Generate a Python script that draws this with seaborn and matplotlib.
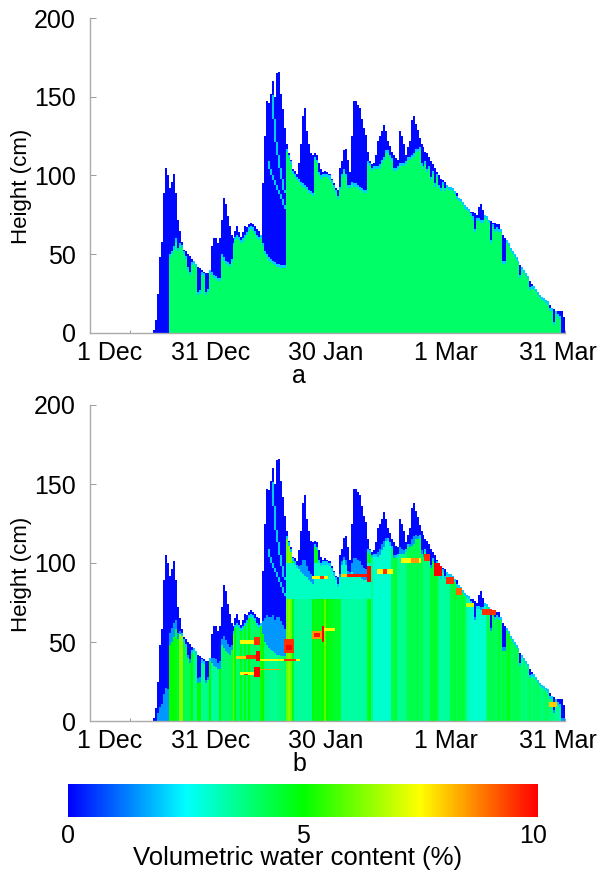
import numpy as np
import seaborn as sns
import matplotlib.pyplot as plt
from matplotlib.colors import LinearSegmentedColormap
from matplotlib.transforms import ScaledTranslation

# All series hold one value per half day, 1 Dec to 31 Mar
snow_height = [
    0, 0, 0, 0, 0, 0, 0, 0, 0, 0, 0, 0, 0, 0, 0, 0, 0, 0, 0, 0,
    0, 0, 0, 0, 0, 0, 0, 0, 0, 0, 0, 0, 2, 8, 25, 48, 58, 89, 105, 100,
    92, 96, 101, 89, 72, 65, 58, 53, 52, 50, 49, 47, 46, 44, 42, 41, 40, 39, 38, 38,
    40, 55, 60, 60, 57, 60, 72, 86, 82, 74, 68, 62, 60, 65, 68, 64, 61, 64, 68, 67,
    69, 70, 69, 68, 66, 65, 61, 95, 125, 147, 146, 152, 160, 150, 165, 166, 152, 142, 130, 120,
    114, 110, 104, 103, 101, 108, 120, 138, 143, 128, 120, 114, 113, 114, 113, 108, 104, 102, 103, 102,
    101, 101, 98, 95, 92, 91, 105, 109, 116, 117, 110, 102, 125, 147, 147, 145, 143, 136, 130, 126,
    115, 109, 107, 108, 113, 122, 125, 128, 132, 128, 122, 119, 115, 113, 111, 110, 128, 125, 120, 113,
    118, 122, 135, 138, 133, 129, 124, 120, 118, 115, 114, 112, 109, 107, 105, 102, 100, 98, 97, 96,
    94, 93, 93, 92, 90, 89, 86, 84, 82, 80, 79, 78, 77, 77, 76, 75, 80, 82, 78, 75,
    73, 72, 71, 70, 70, 69, 69, 66, 62, 60, 58, 56, 53, 51, 49, 47, 45, 43, 41, 39,
    37, 35, 33, 31, 29, 27, 25, 23, 22, 21, 20, 19, 18, 16, 15, 14, 14, 14, 14, 10,
]

# Depth of the dry fresh snow (blue) on top of the column
fresh_depth = [
    0, 0, 0, 0, 0, 0, 0, 0, 0, 0, 0, 0, 0, 0, 0, 0, 0, 0, 0, 0,
    0, 0, 0, 0, 0, 0, 0, 0, 0, 0, 0, 0, 2, 8, 25, 48, 58, 89, 105, 100,
    44, 46, 48, 31, 20, 10, 4, 3, 5, 10, 12, 4, 2, 2, 18, 16, 3, 3, 14, 12,
    2, 18, 25, 26, 24, 27, 24, 40, 38, 31, 26, 17, 5, 6, 8, 5, 4, 6, 8, 5,
    4, 4, 4, 5, 6, 6, 1, 40, 75, 99, 100, 107, 116, 107, 123, 124, 111, 101, 89, 5,
    3, 3, 3, 4, 4, 12, 26, 45, 51, 37, 31, 26, 26, 4, 5, 8, 6, 3, 4, 3,
    3, 3, 3, 3, 3, 6, 14, 10, 14, 18, 18, 10, 31, 54, 54, 53, 52, 46, 41, 37,
    8, 3, 4, 4, 9, 18, 20, 20, 22, 14, 8, 8, 6, 10, 8, 6, 22, 19, 14, 6,
    8, 12, 24, 26, 18, 14, 8, 14, 14, 8, 12, 8, 12, 6, 12, 3, 8, 8, 3, 6,
    2, 2, 2, 2, 2, 4, 2, 1, 1, 1, 1, 1, 3, 5, 12, 4, 9, 12, 8, 2,
    1, 2, 14, 3, 6, 4, 5, 2, 18, 16, 1, 1, 1, 1, 1, 1, 1, 8, 1, 1,
    1, 1, 6, 3, 1, 1, 1, 1, 1, 1, 1, 1, 4, 2, 10, 2, 4, 5, 14, 10,
]

# Water content of the settled snow in the lower panel
column_water = [
    3.5, 3.5, 3.5, 3.5, 3.5, 3.5, 3.5, 3.5, 3.5, 3.5, 3.5, 3.5, 3.5, 3.5, 3.5, 3.5, 3.5, 3.5, 3.5, 3.5,
    3.5, 3.5, 3.5, 3.5, 3.5, 3.5, 3.5, 3.5, 3.5, 3.5, 3.5, 3.5, 3.5, 3.5, 3.5, 3.5, 3.5, 3.5, 3.5, 5,
    5, 5, 5, 4.8, 4.6, 6.3, 6.3, 4.3, 4.2, 4.2, 4.3, 5, 3.7, 3.7, 5, 5, 3.6, 3.6, 3.6, 3.8,
    5, 3.5, 3.5, 3.5, 3.5, 5, 4, 4, 4, 4, 4.2, 4.2, 6, 5, 4, 4, 4.8, 4, 4.8, 4,
    5, 4, 4, 4, 4, 4, 5.2, 5, 3.8, 3.8, 3.6, 3.6, 3.6, 3.6, 3.6, 3.8, 3.8, 3.8, 4, 6,
    6.3, 6, 4.8, 3.5, 3.5, 3.5, 3.5, 3.5, 3.5, 3.5, 3.5, 3.5, 5, 4.6, 4.8, 4.8, 4.8, 5, 6, 5,
    4.8, 4.8, 4.8, 4.6, 4.6, 4.6, 4.6, 3.4, 3.4, 3.4, 3.4, 3.4, 3.4, 3.4, 3.4, 3.4, 3.4, 3.4, 3.4, 3.6,
    4.5, 5, 3.6, 3, 3, 3, 3, 3, 3, 3, 3, 3, 4.3, 4.3, 4.5, 3.7, 3.6, 3.6, 3.6, 3.8,
    4.3, 4.3, 4.3, 4.2, 4.3, 4.3, 4.2, 4.3, 3.8, 3.8, 3.8, 3.8, 4.5, 4.5, 4.6, 4.5, 3.6, 3.4, 3.4, 3.5,
    3.5, 3.5, 4.4, 4.4, 4.5, 4.3, 4.4, 4.4, 4.5, 4.2, 3.4, 3.2, 3, 3, 3, 3, 3, 3, 3, 3,
    4, 4.2, 4.2, 4.3, 4.1, 4.2, 4.5, 4.2, 4.4, 4.2, 4.6, 4.8, 4.2, 4.1, 4.3, 4.2, 4.3, 4.1, 3.8, 4,
    3.8, 4, 4.2, 3.9, 4, 4, 4.2, 3.9, 3.8, 4, 4.1, 4, 3.8, 3.9, 3.7, 3.6, 3.5, 3.5, 3.5, 3.5,
]

# Drier band under the fresh snow from late January: first day, last day, bottom, top (cm), water (%)
band_days = [49.5, 71]
band_heights = [77, 100]
band_water = 3.1

# Wet layers of the lower panel: first day, last day, bottom, top (cm), water (%)
layer_start = [38, 41.5, 37, 39.5, 42, 43, 49, 38, 39, 41.5, 43, 49, 49.5, 56, 56.5, 58.5, 59,
               56, 58, 63.5, 65, 70, 72.5, 74, 78.5, 81, 84.5, 87, 90, 92.5, 95, 99, 116]
layer_end = [43, 43, 43, 43, 43, 53, 52, 43, 40, 43, 48, 51.5, 51, 59, 58, 59, 62,
             60, 59, 71, 70.5, 71, 76.5, 75, 83.5, 83, 86, 89, 92, 94, 97, 102.5, 118]
layer_low = [49, 48, 39, 39, 38, 38, 38, 29, 29, 28, 32, 43, 45, 52, 53, 50, 57,
             90, 90, 91, 91, 88, 93, 93, 100, 100, 101, 92, 87, 80, 72, 67, 9]
layer_high = [51, 53, 41, 42, 44, 39, 39, 31, 30, 34, 33, 52, 48, 57, 56, 60, 59,
              92, 92, 93, 93, 98, 96, 96, 103, 103, 106, 100, 91, 84, 75, 71, 12]
layer_water = [7.5, 9.5, 8, 9.5, 10, 7.5, 9.5, 7.5, 9.5, 10, 8.5, 9.5, 10, 8.5, 9.8, 10, 7.5,
               7.5, 9.5, 8, 9.8, 10, 7.5, 9.5, 7.5, 8.5, 9.5, 10, 9.5, 9, 7, 9.5, 8]

# Lighter curves inside the big January snowfall
streak1_days = [45, 45.5, 46, 46.5, 47, 47.5, 48, 48.5, 49]
streak1_height = [108, 103, 99, 96, 93, 90, 87, 84, 80]
streak2_days = [46, 46.5, 47, 47.5, 48, 48.5, 49]
streak2_height = [150, 135, 120, 112, 104, 97, 90]

tick_days = [0, 30, 60, 90, 120]
tick_labels = ['1 Dec', '31 Dec', '30 Jan', '1 Mar', '31 Mar']
tick_shift_pt = [14, 1, -1, 0, -5]
height_ticks = [0, 50, 100, 150, 200]
settled_water_a = 4.0
max_height = 200

sns.set_style('white')
plt.rcParams['font.family'] = ['Liberation Sans', 'DejaVu Sans']
plt.rcParams['text.color'] = 'black'
plt.rcParams['xtick.labelcolor'] = 'black'
plt.rcParams['ytick.labelcolor'] = 'black'

water_cmap = LinearSegmentedColormap.from_list(
    'water', ['#0000ff', '#00ffff', '#00ff00', '#ffff00', '#ff0000'])


def build_grid(columns, layers=False):
    """Fill a height by time grid with water content, empty above the snow surface."""
    grid = np.full((max_height, len(snow_height)), np.nan)
    for i, top in enumerate(snow_height):
        grid[:int(round(top)), i] = columns[i]

    if layers:
        for i in range(int(band_days[0] * 2), int(band_days[1] * 2)):
            grid[band_heights[0]:min(band_heights[1], snow_height[i]), i] = band_water

    # Fresh snow sits on top, with a lighter rim at its base
    for i, top in enumerate(snow_height):
        depth = fresh_depth[i]
        if depth == 0:
            continue
        base = top - depth
        grid[base:top, i] = 0.1
        if layers and depth >= 10:
            grid[base:base + depth // 5, i] = 1.5
        elif base > 0:
            grid[base:base + 2, i] = 2.0

    for days, heights in [(streak1_days, streak1_height), (streak2_days, streak2_height)]:
        for j, (day, h) in enumerate(zip(days, heights)):
            step = heights[j] - heights[j + 1] if j + 1 < len(heights) else 2
            grid[h - step + 1:h + 1, int(day * 2)] = 2.0

    if layers:
        for start, end, low, high, water in zip(layer_start, layer_end, layer_low, layer_high, layer_water):
            for i in range(int(start * 2), int(end * 2)):
                grid[low:min(high, snow_height[i]), i] = water
    return grid


def draw_panel(ax, grid, letter, cbar_ax=None):
    sns.heatmap(grid, ax=ax, cmap=water_cmap, vmin=0, vmax=10,
                cbar=cbar_ax is not None, cbar_ax=cbar_ax,
                cbar_kws={'orientation': 'horizontal', 'ticks': [0, 5, 10]},
                xticklabels=False, yticklabels=False)
    ax.set_xlim(0, 240)
    ax.set_ylim(0, max_height)

    ax.set_xticks([d * 2 for d in tick_days])
    ax.set_xticklabels(tick_labels, fontsize=18, rotation=0)
    ax.set_xticks(range(0, 241, 20), minor=True)
    ax.set_yticks(height_ticks)
    ax.set_yticklabels(height_ticks, fontsize=18, rotation=0)
    ax.tick_params(axis='x', which='both', direction='in', length=2, width=0.7, color='#999999',
                   labelcolor='black', pad=6, bottom=True)
    ax.tick_params(axis='y', direction='in', length=4, width=0.7, color='#999999',
                   labelcolor='black', pad=10, left=True)
    for label, shift in zip(ax.get_xticklabels(), tick_shift_pt):
        label.set_transform(label.get_transform() + ScaledTranslation(shift / 72, 0, ax.figure.dpi_scale_trans))

    for side in ['left', 'bottom']:
        ax.spines[side].set_visible(True)
        ax.spines[side].set_color('#aaaaaa')
        ax.spines[side].set_linewidth(1)
    ax.text(-0.145, 0.465, 'Height (cm)', transform=ax.transAxes, rotation=90,
            ha='center', va='center', fontsize=16)
    ax.text(0.44, -0.135, letter, transform=ax.transAxes, ha='center', va='center', fontsize=18)


W, H = 600, 871
fig = plt.figure(figsize=(W / 100, H / 100), dpi=100)
ax_a = fig.add_axes([90 / W, 1 - 333 / H, 475 / W, 315 / H])
ax_b = fig.add_axes([90 / W, 1 - 721 / H, 475 / W, 316 / H])
cax = fig.add_axes([68 / W, 1 - 817 / H, 470 / W, 33 / H])

draw_panel(ax_a, build_grid([settled_water_a] * len(snow_height)), 'a')
draw_panel(ax_b, build_grid(column_water, layers=True), 'b', cbar_ax=cax)

cax.tick_params(length=0, labelsize=18, labelcolor='black', pad=5)
cax.set_xticks([0, 5, 9.9])
cax.set_xticklabels(['0', '5', '10'])
cax.set_xlim(0, 10)
ax_b.collections[0].colorbar.outline.set_visible(False)
fig.text(298 / W, 1 - 858 / H, 'Volumetric water content (%)', ha='center', va='center', fontsize=18.5)

plt.savefig('out.png', dpi=100)
